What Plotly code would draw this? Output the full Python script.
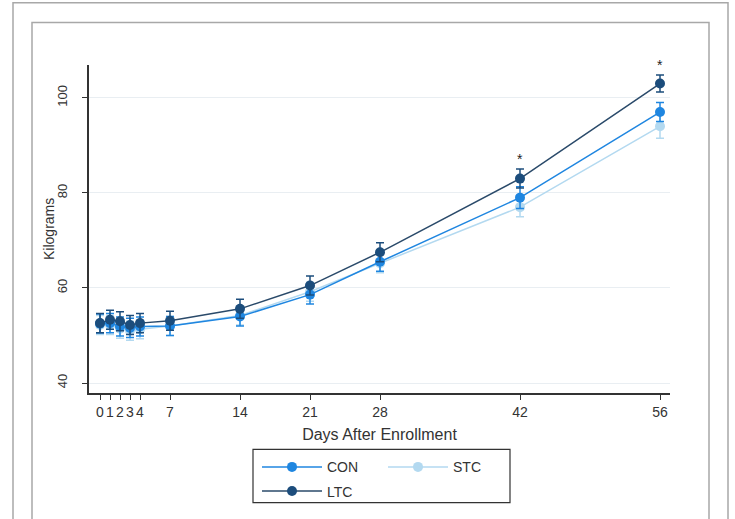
import plotly.graph_objects as go

days = [0, 1, 2, 3, 4, 7, 14, 21, 28, 42, 56]
tick_labels = ["0", "1", "2", "3", "4", "7", "14", "21", "28", "42", "56"]

con = [52.5, 52.6, 51.9, 51.6, 51.9, 52.0, 54.0, 58.6, 65.5, 79.0, 97.0]
con_err = [2.0, 2.0, 2.0, 2.0, 2.0, 2.0, 2.0, 2.0, 2.0, 2.3, 2.0]
stc = [52.2, 52.2, 51.4, 51.0, 51.3, 52.0, 54.2, 59.2, 65.2, 77.0, 94.0]
stc_err = [2.0, 2.0, 2.0, 2.0, 2.0, 2.0, 2.0, 2.0, 2.0, 2.0, 2.5]
ltc = [52.6, 53.3, 53.0, 52.2, 52.6, 53.1, 55.6, 60.5, 67.5, 83.0, 103.0]
ltc_err = [2.0, 2.0, 2.0, 2.0, 2.0, 2.0, 2.0, 2.0, 2.0, 2.0, 1.8]

sig_days = [42, 56]

C_CON = "#1f86e0"
C_STC = "#b3d9f0"
C_LTC = "#1c4d7c"

FONT = "Liberation Sans, Arial, Helvetica, sans-serif"

fig = go.Figure()

def add(name, y, err, color, line_color, legend, group):
    fig.add_trace(go.Scatter(
        x=days, y=y, name=name, mode="lines+markers",
        line=dict(color=line_color, width=1.5),
        marker=dict(color=color, size=10, symbol="circle"),
        error_y=dict(type="data", array=err, visible=True, color=color,
                     thickness=1.5, width=4),
        legend=legend, legendgroup=group,
    ))

add("STC", stc, stc_err, C_STC, C_STC, "legend2", "s")
add("CON", con, con_err, C_CON, C_CON, "legend", "a")
add("LTC", ltc, ltc_err, C_LTC, "#2a4a6a", "legend", "b")

# significance asterisks above LTC
for d in sig_days:
    i = days.index(d)
    fig.add_annotation(x=d, y=ltc[i] + ltc_err[i], text="*", showarrow=False,
                       yanchor="bottom", yshift=0,
                       font=dict(family=FONT, size=14, color="#222"))

L, R, T, B = 89, 65, 65, 122
W, H = 735, 519
pw, ph = W - L - R, H - T - B

def px(x):
    return (x - L) / pw

def py(y):
    return (H - B - y) / ph

# y-axis title
fig.add_annotation(text="Kilograms", xref="paper", yref="paper",
                   x=px(49), y=0.5, textangle=-90, showarrow=False,
                   xanchor="center", yanchor="middle",
                   font=dict(family=FONT, size=14, color="#333"))

shapes = [
    dict(type="rect", xref="paper", yref="paper", x0=px(13), x1=px(728),
         y0=py(530), y1=py(2), line=dict(color="#a8a8a8", width=1.5),
         fillcolor="rgba(0,0,0,0)", layer="below"),
    dict(type="rect", xref="paper", yref="paper", x0=px(32), x1=px(709),
         y0=py(530), y1=py(22), line=dict(color="#a8a8a8", width=1.5),
         fillcolor="rgba(0,0,0,0)", layer="below"),
    dict(type="rect", xref="paper", yref="paper", x0=px(253), x1=px(510),
         y0=py(508), y1=py(454), line=dict(color="#333", width=1.2),
         fillcolor="rgba(0,0,0,0)"),
]

fig.update_layout(
    width=W, height=H,
    margin=dict(l=L, r=R, t=T, b=B),
    paper_bgcolor="white", plot_bgcolor="white",
    font=dict(family=FONT, color="#333", size=13),
    shapes=shapes,
    legend=dict(x=px(257), y=py(456), xanchor="left", yanchor="top",
                orientation="v", bgcolor="rgba(0,0,0,0)", itemwidth=60,
                tracegroupgap=3,
                font=dict(family=FONT, size=14, color="#333")),
    legend2=dict(x=px(383), y=py(456), xanchor="left", yanchor="top",
                 orientation="v", bgcolor="rgba(0,0,0,0)", itemwidth=60,
                 font=dict(family=FONT, size=14, color="#333")),
    xaxis=dict(range=[-1.1, 57], tickvals=days, ticktext=tick_labels,
               tickangle=0,
               showgrid=False, zeroline=False, showline=True,
               linecolor="#333", linewidth=1.5, ticks="outside", ticklen=5,
               tickcolor="#333", tickfont=dict(size=14),
               title=dict(text="Days After Enrollment", standoff=10,
                          font=dict(size=16))),
    yaxis=dict(range=[37.9, 106.9], tickvals=[40, 60, 80, 100],
               tickangle=-90, showgrid=True, gridcolor="#e9eef2",
               gridwidth=1, zeroline=False, showline=True,
               linecolor="#333", linewidth=1.5, ticks="outside", ticklen=5,
               tickcolor="#333", tickfont=dict(size=13),
               ticklabelstandoff=10),
)

fig.write_html("out.html",
               config={"displayModeBar": False},
               post_script="document.body.style.margin='0';document.body.style.overflow='hidden';")
